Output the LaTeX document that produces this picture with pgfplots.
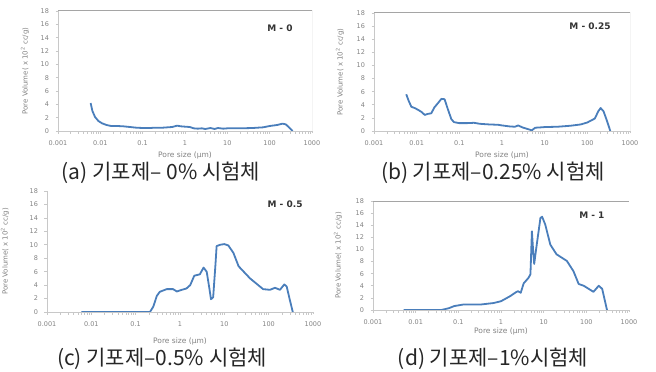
\documentclass[border=0pt]{standalone}
\usepackage{fontspec}
\setmainfont{DejaVu Sans}
\newfontfamily\kr{Noto Sans CJK KR}
\usepackage{pgfplots}
\pgfplotsset{compat=1.18}
\definecolor{lineblue}{RGB}{74,126,187}
\definecolor{axgray}{RGB}{200,200,200}
\definecolor{frgray}{RGB}{165,165,165}
\definecolor{txtgray}{RGB}{130,130,130}
\pgfplotsset{every axis/.append style={
  scale only axis, xmin=0.001, xmax=1000, ymin=0, ymax=18,
  xtick={0.001,0.01,0.1,1,10,100,1000},
  xticklabels={0.001,0.01,0.1,1,10,100,1000},
  ytick={0,2,4,6,8,10,12,14,16,18},
  minor xtick={},
  axis x line*=bottom, axis y line*=left,
  axis line style={axgray, line width=0.8pt},
  tick style={axgray, line width=0.6pt},
  tick align=outside, major tick length=2.5pt,
  ticklabel style={font=\fontsize{6.5}{7}\selectfont, text=txtgray},
  xticklabel style={yshift=-4pt},
  yticklabel style={xshift=-3pt},
  xlabel={Pore size (μm)},
  ylabel={Pore Volume( x 10\textsuperscript{2} cc/g)},
  xlabel style={font=\fontsize{7.5}{8}\selectfont, text=txtgray},
  ylabel style={font=\fontsize{7}{8}\selectfont, text=txtgray},
  /pgf/number format/assume math mode=true,
}}
\tikzset{mlabel/.style={font=\bfseries\fontsize{9}{10}\selectfont, text=black!80},
  pline/.style={lineblue, line width=1.8pt, line join=round, mark=none}}
\begin{document}
\begin{tikzpicture}[x=1pt,y=1pt]
\useasboundingbox (0,0) rectangle (656,372);
% (a)
\begin{semilogxaxis}[width=254pt, height=120pt, at={(58pt,241pt)}, anchor=south west,
  xlabel style={at={(axis description cs:0.5,0)}, anchor=center, yshift=-24pt},
  ylabel style={at={(axis description cs:-0.13,0.5)}, anchor=center}]
\addplot[pline] coordinates {(0.0059,4.2)(0.0065,3.0)(0.0075,2.1)(0.009,1.5)(0.011,1.15)(0.014,0.9)(0.018,0.75)(0.025,0.75)(0.035,0.7)(0.05,0.6)(0.07,0.5)(0.1,0.45)(0.15,0.45)(0.2,0.5)(0.3,0.5)(0.5,0.6)(0.65,0.8)(0.8,0.7)(1,0.65)(1.3,0.6)(1.6,0.4)(2,0.35)(2.5,0.4)(3,0.3)(4,0.45)(5,0.3)(6,0.45)(8,0.35)(10,0.4)(20,0.4)(40,0.45)(70,0.55)(100,0.75)(150,0.9)(200,1.1)(240,1.0)(280,0.6)(350,0.0)};
\draw[frgray, line width=1pt] (rel axis cs:0,1) -- (rel axis cs:1,1) -- (rel axis cs:1,0);
\node[mlabel] at (rel axis cs:0.874,0.858) {M - 0};
\end{semilogxaxis}
% (b)
\begin{semilogxaxis}[width=256pt, height=118pt, at={(374pt,241pt)}, anchor=south west,
  xlabel style={at={(axis description cs:0.5,0)}, anchor=center, yshift=-24pt},
  ylabel style={at={(axis description cs:-0.133,0.5)}, anchor=center}]
\addplot[pline] coordinates {(0.0057,5.6)(0.0065,4.6)(0.0075,3.7)(0.009,3.5)(0.011,3.2)(0.013,2.9)(0.0155,2.45)(0.018,2.6)(0.022,2.7)(0.026,3.6)(0.032,4.3)(0.038,4.9)(0.045,4.85)(0.054,3.3)(0.065,1.8)(0.075,1.35)(0.1,1.2)(0.15,1.2)(0.22,1.25)(0.3,1.1)(0.5,1.0)(0.8,0.95)(1,0.85)(1.5,0.7)(2,0.65)(2.4,0.85)(3,0.55)(4,0.3)(5,0.1)(6,0.5)(8,0.55)(10,0.6)(20,0.65)(40,0.8)(70,1.0)(100,1.3)(150,1.9)(180,3.0)(205,3.5)(240,3.0)(290,1.5)(345,0.0)};
\draw[frgray, line width=1pt] (rel axis cs:0,1) -- (rel axis cs:1,1) -- (rel axis cs:1,0);
\node[mlabel] at (rel axis cs:0.844,0.89) {M - 0.25};
\end{semilogxaxis}
% (c)
\begin{semilogxaxis}[width=266pt, height=121pt, at={(47pt,60pt)}, anchor=south west,
  xlabel style={at={(axis description cs:0.5,0)}, anchor=center, yshift=-29pt},
  ylabel style={at={(axis description cs:-0.158,0.5)}, anchor=center}]
\addplot[pline] coordinates {(0.006,0)(0.21,0)(0.25,0.8)(0.3,2.4)(0.35,3.0)(0.5,3.4)(0.7,3.4)(0.85,3.05)(1.1,3.3)(1.4,3.5)(1.7,4.0)(2.1,5.4)(2.8,5.6)(3.4,6.6)(4.0,6.0)(4.6,3.5)(5.0,1.9)(5.6,2.2)(6.3,7.0)(6.7,9.8)(8.0,10.0)(10,10.1)(12.3,9.9)(16,8.8)(21,6.8)(38,5.0)(75,3.4)(107,3.3)(139,3.6)(180,3.3)(225,4.1)(255,3.8)(300,1.8)(350,0.0)};
\node[mlabel] at (rel axis cs:0.895,0.893) {M - 0.5};
\end{semilogxaxis}
% (d)
\begin{semilogxaxis}[width=256pt, height=109pt, at={(373pt,62pt)}, anchor=south west,
  xlabel style={at={(axis description cs:0.5,0)}, anchor=center, yshift=-21pt},
  ylabel style={at={(axis description cs:-0.137,0.5)}, anchor=center}]
\addplot[pline] coordinates {(0.0052,0)(0.04,0)(0.06,0.3)(0.08,0.65)(0.13,0.9)(0.33,0.9)(0.67,1.15)(1,1.45)(1.65,2.3)(2.2,2.9)(2.5,3.1)(2.9,2.85)(3.4,4.4)(4.4,5.3)(4.9,5.9)(5.3,13.0)(5.7,9.5)(6.0,7.6)(6.7,10.2)(8.4,15.2)(9.2,15.4)(10.9,14.1)(14.3,10.8)(20,9.2)(35,8.1)(50,6.4)(66,4.3)(87,4.0)(147,3.0)(195,4.0)(235,3.5)(305,0.0)};
\draw[frgray, line width=1pt] (rel axis cs:0,1) -- (rel axis cs:1,1);
\node[mlabel] at (rel axis cs:0.855,0.87) {M - 1};
\end{semilogxaxis}
% captions
\begin{scope}[every node/.style={font=\kr\fontsize{21}{24}\selectfont, text=black!85}]
\node at (161,199) {(a) 기포제– 0\% 시험체};
\node at (493,199) {(b) 기포제–0.25\% 시험체};
\node at (162,13) {(c) 기포제–0.5\% 시험체};
\node at (493,13) {(d) 기포제–1\%시험체};
\end{scope}
\end{tikzpicture}
\end{document}
